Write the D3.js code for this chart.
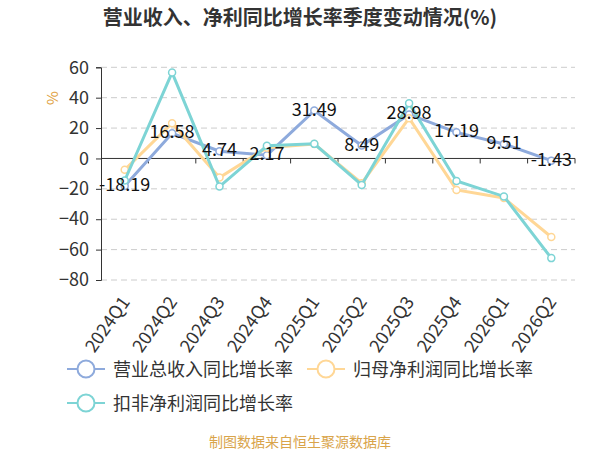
<!DOCTYPE html>
<html><head><meta charset="utf-8">
<script src="https://cdn.jsdelivr.net/npm/d3@7"></script>
<style>body{margin:0;background:#fff}svg{display:block;font-family:"Noto Sans CJK SC","Noto Sans",sans-serif}</style>
</head><body><svg id="c" width="600" height="450"></svg>
<script>
const categories = ["2024Q1","2024Q2","2024Q3","2024Q4","2025Q1","2025Q2","2025Q3","2025Q4","2026Q1","2026Q2"];
const revenueGrowth = [-18.19,16.58,4.74,2.17,31.49,8.49,28.98,17.19,9.51,-1.43];
const netProfitGrowth = [-7.5,23.2,-12.5,7.0,9.5,-16.3,26.5,-20.7,-26.0,-51.7];
const deductedProfitGrowth = [-14.5,56.5,-18.5,8.3,9.6,-17.4,36.4,-14.8,-25.0,-65.6];
const yTicks = [-80,-60,-40,-20,0,20,40,60];
const seriesNames = ["营业总收入同比增长率","归母净利润同比增长率","扣非净利润同比增长率"];
const colors = ["#8eaadc","#ffd796","#7dd4d5"];

const svg = d3.select("#c");
const x = d3.scaleBand().domain(categories).range([101,575]);
const y = d3.scaleLinear().domain([-80,60]).range([280,67.3]);

svg.append("text").attr("x",300).attr("y",25).attr("text-anchor","middle")
  .attr("font-size",20).attr("font-weight","bold").attr("fill","#333")
  .text("营业收入、净利同比增长率季度变动情况(%)");

// grid
svg.append("g").selectAll("line").data(yTicks.filter(d=>d!==0)).join("line")
  .attr("x1",101).attr("x2",575).attr("y1",d=>y(d)).attr("y2",d=>y(d))
  .attr("stroke","#ccc").attr("stroke-dasharray","6,4").attr("stroke-width",1);

// y axis
const yAxis = svg.append("g").attr("transform","translate(101,0)")
  .call(d3.axisLeft(y).tickValues(yTicks).tickSize(5).tickPadding(7));
yAxis.select(".domain").attr("stroke","#333");
yAxis.selectAll(".tick line").attr("stroke","#333");
yAxis.selectAll(".tick text").attr("font-size",18).attr("fill","#333").attr("font-family","\"Noto Sans CJK SC\",sans-serif");

svg.append("text").attr("transform","translate(58,98) rotate(-90)").attr("text-anchor","middle")
  .attr("font-size",15).attr("fill","#e0a040").text("%");

// x axis at zero
const xAxisG = svg.append("g");
xAxisG.append("line").attr("x1",101).attr("x2",575).attr("y1",y(0)).attr("y2",y(0)).attr("stroke","#333");
xAxisG.selectAll("line.tk").data(categories).join("line").attr("class","tk")
  .attr("x1",d=>x(d)+x.bandwidth()).attr("x2",d=>x(d)+x.bandwidth())
  .attr("y1",y(0)).attr("y2",y(0)+5).attr("stroke","#333");
// x labels at bottom
svg.append("g").selectAll("text").data(categories).join("text")
  .attr("transform",d=>`translate(${x(d)+x.bandwidth()/2+6},${y(-80)+22}) rotate(-55)`)
  .attr("text-anchor","end").attr("font-size",18).attr("fill","#333").text(d=>d);

// lines
const allSeries = [revenueGrowth,netProfitGrowth,deductedProfitGrowth];
const line = d3.line().x((d,i)=>x(categories[i])+x.bandwidth()/2).y(d=>y(d));
allSeries.forEach((s,k)=>{
  svg.append("path").datum(s).attr("d",line).attr("fill","none")
    .attr("stroke",colors[k]).attr("stroke-width",3);
  svg.append("g").selectAll("circle").data(s).join("circle")
    .attr("cx",(d,i)=>x(categories[i])+x.bandwidth()/2).attr("cy",d=>y(d)).attr("r",3.5)
    .attr("fill","#fff").attr("stroke",colors[k]).attr("stroke-width",1.5);
});
// labels
svg.append("g").selectAll("text").data(revenueGrowth).join("text")
  .attr("x",(d,i)=>x(categories[i])+x.bandwidth()/2).attr("y",d=>y(d)+5)
  .attr("text-anchor","middle").attr("font-size",18).attr("fill","#111").text(d=>d.toFixed(2));

// legend
const legendPos = [[86,369],[326,369],[86,403]];
seriesNames.forEach((n,k)=>{
  const [cx,cy] = legendPos[k];
  const g = svg.append("g");
  g.append("line").attr("x1",cx-19).attr("x2",cx+19).attr("y1",cy).attr("y2",cy).attr("stroke",colors[k]).attr("stroke-width",2);
  g.append("circle").attr("cx",cx).attr("cy",cy).attr("r",8.5).attr("fill","#fff").attr("stroke",colors[k]).attr("stroke-width",2);
  g.append("text").attr("x",cx+27).attr("y",cy+6.5).attr("font-size",18).attr("fill","#333").text(n);
});

svg.append("text").attr("x",300).attr("y",447).attr("text-anchor","middle")
  .attr("font-size",14).attr("fill","#d9a44a").text("制图数据来自恒生聚源数据库");
</script></body></html>
